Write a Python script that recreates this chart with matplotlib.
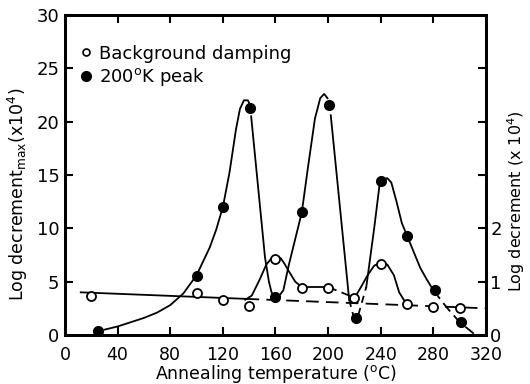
import matplotlib.pyplot as plt
from matplotlib.lines import Line2D

# measured points (annealing temperature in degC)
temps = [20, 100, 120, 140, 160, 180, 200, 220, 240, 260, 280, 300]
background = [0.74, 0.79, 0.66, 0.54, 1.43, 0.89, 0.89, 0.69, 1.33, 0.59, 0.53, 0.51]  # right axis (x10^4)
peak_temps = [25, 100, 120, 141, 160, 180, 201, 221, 240, 260, 281, 301]
peak_vals = [0.4, 5.5, 12.0, 21.3, 3.6, 11.5, 21.6, 1.6, 14.4, 9.3, 4.2, 1.2]  # left axis (x10^4)

# hand drawn curves
peak_a_x = [30, 40, 50, 60, 70, 80, 90, 100, 110, 115, 120, 125, 130, 133, 136, 139, 140.5]
peak_a_y = [0.5, 0.8, 1.2, 1.6, 2.1, 2.8, 3.9, 5.6, 8.2, 9.9, 12.0, 15.2, 19.3, 21.2, 22.0, 22.0, 21.6]
peak_b_x = [141.5, 152, 155, 157, 159, 161, 163, 166, 170, 175, 180, 185, 190, 194, 197, 199.5]
peak_b_y = [20.5, 7.3, 5.0, 4.0, 3.6, 3.5, 3.7, 4.2, 6.5, 9.0, 11.5, 16.0, 20.3, 22.2, 22.6, 22.2]
peak_c_x = [202, 216]
peak_c_y = [20.6, 3.3]
peak_dip_x = [216, 219, 221, 223, 226, 229]
peak_dip_y = [3.3, 1.9, 1.5, 1.9, 3.2, 4.5]
peak_d_x = [229, 235, 239, 242, 245, 248, 252, 256, 260, 265, 270, 275, 280]
peak_d_y = [4.5, 10.0, 14.0, 14.6, 14.7, 14.3, 12.5, 10.5, 9.3, 7.8, 6.3, 5.2, 4.2]
peak_e_x = [280, 290, 300, 306, 312]
peak_e_y = [4.2, 2.6, 1.2, 0.6, 0.0]

base_solid_x = [12, 138]
base_solid_y = [0.80, 0.677]
base_dash_x = [138, 320]
base_dash_y = [0.677, 0.50]
bg_a_x = [137, 142, 148, 153, 157, 160, 164, 167, 170, 175, 180, 200]
bg_a_y = [0.66, 0.74, 1.04, 1.32, 1.44, 1.47, 1.44, 1.33, 1.20, 1.0, 0.90, 0.90]
bg_dash_x = [200, 220]
bg_dash_y = [0.90, 0.70]
bg_b_x = [220, 225, 230, 235, 240, 245, 250, 254, 258, 261]
bg_b_y = [0.69, 0.90, 1.12, 1.30, 1.36, 1.32, 1.12, 0.80, 0.64, 0.60]

plt.rcParams['font.family'] = 'DejaVu Sans'
fig = plt.figure(figsize=(5.3, 3.84), dpi=100)
ax = fig.add_axes([0.1226, 0.1276, 0.7944, 0.8334])
ax2 = ax.twinx()

lw = 1.3
ax.plot(peak_a_x, peak_a_y, color='black', lw=lw)
ax.plot(peak_b_x, peak_b_y, color='black', lw=lw)
ax.plot(peak_c_x, peak_c_y, color='black', lw=lw)
ax.plot(peak_dip_x, peak_dip_y, color='black', lw=lw, dashes=(4, 3))
ax.plot(peak_d_x, peak_d_y, color='black', lw=lw)
ax.plot(peak_e_x, peak_e_y, color='black', lw=lw, dashes=(6, 3))
ax.plot(peak_temps, peak_vals, 'o', color='black', ms=7, zorder=5)

ax2.plot(base_solid_x, base_solid_y, color='black', lw=lw)
ax2.plot(base_dash_x, base_dash_y, color='black', lw=lw, dashes=(7, 4))
ax2.plot(bg_a_x, bg_a_y, color='black', lw=lw)
ax2.plot(bg_dash_x, bg_dash_y, color='black', lw=lw, dashes=(5, 3))
ax2.plot(bg_b_x, bg_b_y, color='black', lw=lw)
ax2.plot(temps, background, 'o', mfc='white', mec='black', mew=1.3, ms=6.5, zorder=5)

ax.set_xlim(0, 320)
ax.set_ylim(0, 30)
ax2.set_ylim(0, 6)
ax.set_xticks(range(0, 321, 40))
ax.set_yticks(range(0, 31, 5))
ax2.set_yticks([0, 1, 2, 3, 4, 5])
ax2.set_yticklabels(['0', '1', '2', '', '', ''])

for a in (ax, ax2):
    for s in a.spines.values():
        s.set_linewidth(2)
ax.tick_params(direction='in', length=6, width=1.5, labelsize=13, top=True, pad=4)
ax.tick_params(axis='x', pad=8, labelsize=12.5)
ax2.tick_params(direction='in', length=6, width=1.5, labelsize=13, pad=3)

ax.set_xlabel('Annealing temperature ($^{\\rm o}$C)', fontsize=12.5)
ax.xaxis.set_label_coords(0.5, -0.088)
ax.set_ylabel('Log decrement$_{\\rm max}$(x10$^4$)', fontsize=12.5)
ax.yaxis.set_label_coords(-0.082, 0.44)
ax2.set_ylabel('Log decrement (x 10$^4$)', fontsize=11.5, rotation=90)
ax2.yaxis.set_label_coords(1.045, 0.42)

handles = [Line2D([], [], ls='none', marker='o', mfc='white', mec='black', mew=1.2, ms=5),
           Line2D([], [], ls='none', marker='o', color='black', ms=7)]
ax.legend(handles, ['Background damping', '200$^{\\rm o}$K peak'], loc='upper left',
          bbox_to_anchor=(0.02, 0.93), frameon=False, fontsize=13, handlelength=0.6,
          handletextpad=0.4, labelspacing=0.2, borderaxespad=0)

fig.savefig('out.png', dpi=100)
